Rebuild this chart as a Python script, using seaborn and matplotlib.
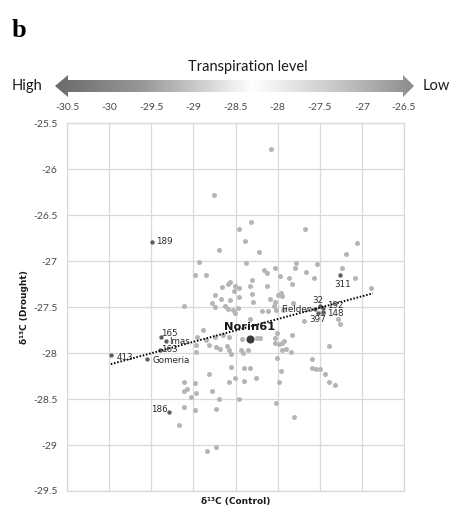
import numpy as np
import matplotlib
matplotlib.use("Agg")
import matplotlib.pyplot as plt
import seaborn as sns
from matplotlib.colors import LinearSegmentedColormap
from matplotlib.patches import Polygon

# ---------------- data ----------------
control = [-28.079, -28.752, -28.316, -28.462, -27.671, -28.391, -27.052, -28.699, -28.221, -27.194,
           -28.937, -28.375, -27.778, -27.529, -27.794, -28.028, -27.230, -28.158, -28.123, -27.660,
           -28.975, -28.854, -27.968, -27.861, -27.574, -27.076, -28.304, -28.569, -28.593, -28.660,
           -28.506, -28.453, -28.512, -28.328, -28.132, -27.829, -26.895, -28.749, -28.672, -28.565,
           -28.308, -27.960, -27.954, -28.087, -27.996, -28.458, -28.779, -28.749, -28.621, -28.593,
           -28.526, -28.470, -28.509, -29.108, -28.292, -28.031, -28.043, -27.814, -28.191, -28.118,
           -28.019, -27.936, -28.328, -27.683, -27.465, -27.280, -27.260, -28.882, -27.829, -28.011,
           -28.960, -28.854, -28.747, -28.652, -28.574, -28.417, -28.248, -28.206, -28.028, -28.028,
           -27.984, -27.945, -27.921, -28.963, -28.963, -28.818, -28.735, -28.684, -28.595, -28.577,
           -28.548, -28.438, -28.407, -28.348, -27.952, -27.904, -27.841, -28.013, -27.588, -27.394,
           -28.553, -28.399, -28.328, -27.588, -27.545, -27.497, -27.960, -28.818, -27.434, -28.506,
           -28.399, -28.257, -28.577, -27.980, -27.390, -27.315, -29.108, -28.975, -29.117, -29.079,
           -28.963, -29.032, -28.783, -28.699, -28.458, -28.019, -29.108, -28.975, -28.735, -27.806,
           -29.167, -28.735, -28.844]
drought = [-25.780, -26.283, -26.579, -26.645, -26.653, -26.775, -26.797, -26.873, -26.904, -26.925,
           -27.006, -27.017, -27.015, -27.026, -27.071, -27.069, -27.069, -27.096, -27.126, -27.115,
           -27.145, -27.145, -27.156, -27.180, -27.180, -27.180, -27.205, -27.227, -27.243, -27.278,
           -27.265, -27.292, -27.322, -27.270, -27.270, -27.243, -27.292, -27.365, -27.412, -27.423,
           -27.357, -27.350, -27.374, -27.412, -27.365, -27.390, -27.450, -27.493, -27.488, -27.515,
           -27.532, -27.505, -27.567, -27.488, -27.441, -27.445, -27.488, -27.459, -27.542, -27.542,
           -27.532, -27.532, -27.633, -27.651, -27.561, -27.624, -27.684, -27.749, -27.800, -27.785,
           -27.822, -27.858, -27.822, -27.807, -27.829, -27.850, -27.833, -27.833, -27.836, -27.894,
           -27.898, -27.887, -27.869, -27.912, -27.983, -27.912, -27.931, -27.959, -27.918, -27.967,
           -28.005, -27.967, -28.003, -27.967, -27.967, -27.959, -27.992, -28.057, -28.068, -27.923,
           -28.146, -28.166, -28.166, -28.166, -28.174, -28.174, -28.199, -28.231, -28.228, -28.266,
           -28.299, -28.275, -28.315, -28.318, -28.315, -28.351, -28.310, -28.329, -28.408, -28.394,
           -28.438, -28.475, -28.408, -28.503, -28.503, -28.547, -28.584, -28.623, -28.603, -28.693,
           -28.780, -29.019, -29.063]

named = ["189", "311", "413", "Gomeria", "165", "Imas", "163", "186",
         "32", "Fielden", "192", "148", "397"]
named_control = [-29.495, -27.256, -29.978, -29.547, -29.384, -29.319, -29.402, -29.295,
                 -27.497, -27.557, -27.461, -27.461, -27.521]
named_drought = [-26.788, -27.145, -28.021, -28.068, -27.820, -27.871, -27.961, -28.645,
                 -27.490, -27.521, -27.504, -27.555, -27.564]

ref_name = "Norin61"
ref_control = [-28.331]
ref_drought = [-27.850]

trend_control = [-29.98, -26.87]
trend_drought = [-28.12, -27.35]

xticks = [-30.5, -30, -29.5, -29, -28.5, -28, -27.5, -27, -26.5]
yticks = [-25.5, -26, -26.5, -27, -27.5, -28, -28.5, -29, -29.5]

# label placement (pixels offset, alignment)
label_layout = {
    "189": ((4, 0), "left", "center"),
    "311": ((2, -10), "center", "center"),
    "413": ((6, -2), "left", "center"),
    "Gomeria": ((5, -1), "left", "center"),
    "165": ((0, 3), "left", "center"),
    "Imas": ((3, 0), "left", "center"),
    "163": ((2, 0), "left", "center"),
    "186": ((-1, 3), "right", "center"),
    "32": ((-2, 6), "center", "center"),
    "Fielden": ((-3, 0), "right", "center"),
    "192": ((4, 2.5), "left", "center"),
    "148": ((4, -1), "left", "center"),
    "397": ((0, -6), "center", "center"),
}

# ---------------- styling ----------------
sns.set_theme(style="whitegrid")
plt.rcParams["font.family"] = ["DejaVu Sans"]

W, H = 453, 507
fig = plt.figure(figsize=(W / 100, H / 100), dpi=100)
fig.patch.set_facecolor("white")

# decoration: gradient double arrow
ax_bg = fig.add_axes([0, 0, 1, 1], zorder=-1)
ax_bg.axis("off")
cmap = LinearSegmentedColormap.from_list(
    "tr", [(0, "#6a6a6a"), (0.25, "#9a9a9a"), (0.55, "#ffffff"), (0.8, "#c4c4c4"), (1, "#8c8c8c")])
verts = [(55, 86), (68, 75), (68, 80), (403, 80), (403, 75), (414, 86),
         (403, 97), (403, 92), (68, 92), (68, 97)]
poly = Polygon(verts, closed=True, facecolor="none", edgecolor="none")
ax_bg.add_patch(poly)
im = ax_bg.imshow(np.linspace(0, 1, 256)[None, :], extent=[55, 414, 97, 75],
                  cmap=cmap, aspect="auto", interpolation="bilinear")
im.set_clip_path(poly)
ax_bg.set_xlim(0, W)
ax_bg.set_ylim(H, 0)

fig.text(248 / W, 1 - 67 / H, "Transpiration level", fontfamily="Lato", fontsize=10.5,
         ha="center", va="center", color="#1a1a1a")
fig.text(12 / W, 1 - 86 / H, "High", fontfamily="Lato", fontsize=10.5,
         ha="left", va="center", color="#1a1a1a")
fig.text(423 / W, 1 - 86 / H, "Low", fontfamily="Lato", fontsize=10.5,
         ha="left", va="center", color="#1a1a1a")
fig.text(12 / W, 1 - 37 / H, "b", fontfamily="Liberation Serif", fontweight="bold",
         fontsize=19, ha="left", va="baseline", color="black")

# main axes
ax = fig.add_axes([67 / W, 1 - 491 / H, 337 / W, 367.7 / H])
ax.set_facecolor("white")

sns.scatterplot(x=control, y=drought, color="#b5b5b5", s=13, linewidth=0, ax=ax, zorder=3)
sns.scatterplot(x=named_control, y=named_drought, color="#5e5e5e", s=10, linewidth=0,
                ax=ax, zorder=4)
sns.scatterplot(x=ref_control, y=ref_drought, color="#3a3a3a", s=34, linewidth=0,
                ax=ax, zorder=5)
sns.lineplot(x=trend_control, y=trend_drought, color="black", linewidth=1.4,
             linestyle=(0, (0.8, 0.9)), ax=ax, zorder=6)

for name, cx, cy in zip(named, named_control, named_drought):
    (dx, dy), ha, va = label_layout[name]
    ax.annotate(name, (cx, cy), xytext=(dx, dy), textcoords="offset pixels",
                ha=ha, va=va, fontsize=6.3, color="#2a2a2a", zorder=7)
ax.annotate(ref_name, (ref_control[0], ref_drought[0]), xytext=(0, 12),
            textcoords="offset pixels", ha="center", va="center", fontsize=8.2,
            fontweight="bold", color="#1a1a1a", zorder=7)

ax.set_xlim(-30.5, -26.5)
ax.set_ylim(-29.5, -25.5)
ax.set_xticks(xticks)
ax.set_yticks(yticks)
ax.set_xticklabels([f"{t:g}" for t in xticks], fontfamily="Lato")
ax.set_yticklabels([f"{t:g}" for t in yticks], fontfamily="Lato")
ax.xaxis.tick_top()
ax.xaxis.set_label_position("bottom")
ax.tick_params(axis="both", length=0, labelsize=7.5, labelcolor="#4a4a4a")
ax.tick_params(axis="x", pad=8)
ax.tick_params(axis="y", pad=7)
ax.grid(True, color="#d9d9d9", linewidth=0.9)
for s in ax.spines.values():
    s.set_color("#d9d9d9")
    s.set_linewidth(0.9)

ax.set_xlabel("δ¹³C (Control)", fontsize=6.5, fontweight="bold", color="#1a1a1a", labelpad=4)
ax.set_ylabel("δ¹³C (Drought)", fontsize=6.5, fontweight="bold", color="#1a1a1a", labelpad=3)

fig.savefig("out.png", dpi=100)
